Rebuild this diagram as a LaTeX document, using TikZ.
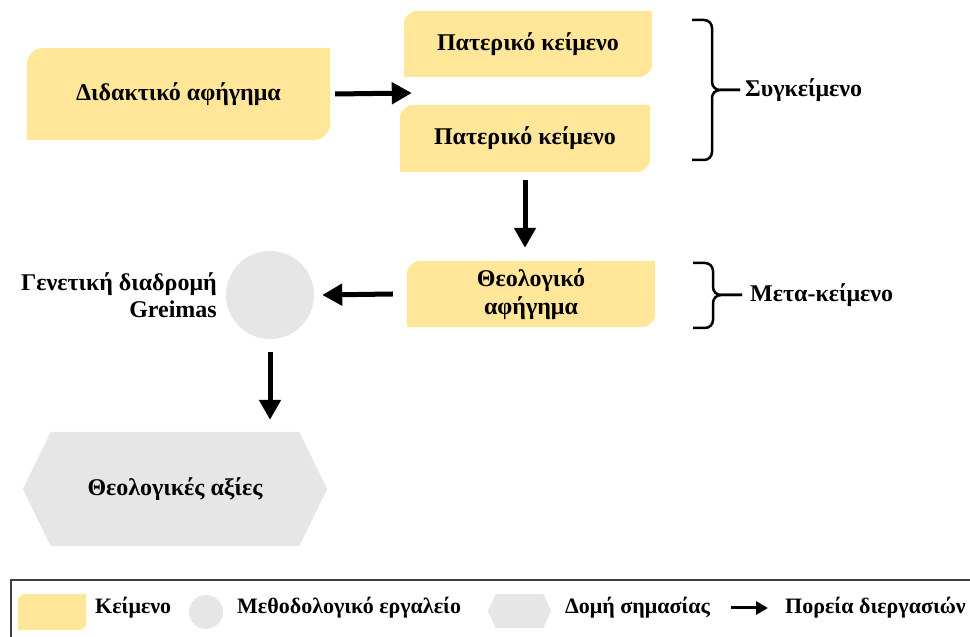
\documentclass[tikz,border=0pt]{standalone}
\usepackage{fontspec}
\setmainfont{Liberation Serif}
\usetikzlibrary{arrows.meta,calc,backgrounds}
\definecolor{yel}{HTML}{FFE699}
\definecolor{gry}{HTML}{E6E6E6}
\definecolor{frame}{HTML}{404040}
\tikzset{
  lbl/.style={font=\bfseries\fontsize{24}{27.5}\selectfont, align=center, inner sep=0pt},
  legtxt/.style={font=\bfseries\fontsize{22}{26}\selectfont, inner sep=0pt, anchor=west},
  txtbox/.style 2 args={lbl, minimum width=#1, minimum height=#2},
  flow/.style={line width=5pt, -{Triangle[length=20pt,width=21pt]}},
  legflow/.style={line width=3pt, -{Triangle[length=12pt,width=13pt]}},
  bracket/.style={line width=2.5pt, rounded corners=8pt},
}
\newcommand\snipfill[2]{%
  \fill[yel] let \p1=(#1.south west), \p2=(#1.north east) in
    (\x1,\y1) -- (\x1,\y2-#2) arc[start angle=180,end angle=90,radius=#2]
    -- (\x2,\y2) -- (\x2,\y1+#2) arc[start angle=0,end angle=-90,radius=#2] -- cycle;}
\newcommand\hexfill[2]{%
  \fill[gry] let \p1=(#1.south west), \p2=(#1.north east), \p3=(#1.center) in
    (\x1,\y3) -- (\x1+#2,\y2) -- (\x2-#2,\y2) -- (\x2,\y3) -- (\x2-#2,\y1) -- (\x1+#2,\y1) -- cycle;}
\begin{document}
\begin{tikzpicture}[x=1pt,y=1pt]
\useasboundingbox (0,0) rectangle (970,637);
% text boxes
\node[txtbox={303pt}{92pt}] (didak) at (178.5,543) {Διδακτικό αφήγημα};
\node[txtbox={248pt}{66pt}] (pat1) at (528,593) {Πατερικό κείμενο};
\node[txtbox={250pt}{67pt}] (pat2) at (525,498.5) {Πατερικό κείμενο};
\node[txtbox={248pt}{66pt}] (theo) at (531,343) {Θεολογικό\\αφήγημα};
\node[circle, fill=gry, minimum size=88pt, inner sep=0pt] (tool) at (270,342) {};
\node[lbl, align=right, anchor=east] (greimas) at (217,342) {Γενετική διαδρομή\\Greimas};
\node[txtbox={304pt}{114pt}] (values) at (175,148) {Θεολογικές αξίες};
\begin{scope}[on background layer]
  \snipfill{didak}{17pt}
  \snipfill{pat1}{14pt}
  \snipfill{pat2}{14pt}
  \snipfill{theo}{14pt}
  \hexfill{values}{28pt}
\end{scope}
% flow arrows
\coordinate (a1end) at ([xshift=8pt]pat1.west |- didak.east);
\draw[flow] ([xshift=5pt]didak.east) -- ([yshift=1pt]a1end);
\draw[flow] ([yshift=-8pt]pat2.south) -- ([yshift=13pt]pat2.south |- theo.north);
\draw[flow] ([xshift=-14pt]theo.west) -- ([xshift=8pt]tool.east);
\draw[flow] ([yshift=-13pt]tool.south) -- ([yshift=12pt]tool.south |- values.north);
% brackets
\node[lbl, anchor=west] (syg) at (745,547) {Συγκείμενο};
\coordinate (b1top) at (692,617);
\coordinate (b1bot) at (692,477);
\draw[bracket] (b1top) -- (712,617) -- (712,547) -- ([xshift=-5pt]syg.west);
\draw[bracket] (b1bot) -- (712,477) -- (712,547) -- ([xshift=-5pt]syg.west);
\node[lbl, anchor=west] (meta) at (750,342) {Μετα-κείμενο};
\coordinate (b2top) at (693,374);
\coordinate (b2bot) at (693,309);
\draw[bracket] (b2top) -- (713,374) -- (713,342) -- ([xshift=-8pt]meta.west);
\draw[bracket] (b2bot) -- (713,309) -- (713,342) -- ([xshift=-8pt]meta.west);
% legend
\draw[frame, line width=1.2pt] (970,57) -- (11,57) -- (11,0);
\node[minimum width=68pt, minimum height=36pt, inner sep=0pt] (lgbox) at (52,25) {};
\begin{scope}[on background layer]
  \snipfill{lgbox}{8pt}
\end{scope}
\node[legtxt] (lgboxt) at (95,29) {Κείμενο};
\node[circle, fill=gry, minimum size=34pt, inner sep=0pt] (lgcirc) at (206,25) {};
\node[legtxt] (lgcirct) at (237,29) {Μεθοδολογικό εργαλείο};
\node[minimum width=63pt, minimum height=34pt, inner sep=0pt] (lghex) at (519.5,26) {};
\begin{scope}[on background layer]
  \hexfill{lghex}{8pt}
\end{scope}
\node[legtxt] (lghext) at (565,29) {Δομή σημασίας};
\coordinate (lgarrs) at (731,29);
\node[legtxt] (lgarrt) at (785,29) {Πορεία διεργασιών};
\draw[legflow] (lgarrs) -- ([xshift=-17pt]lgarrt.west);
\end{tikzpicture}
\end{document}
